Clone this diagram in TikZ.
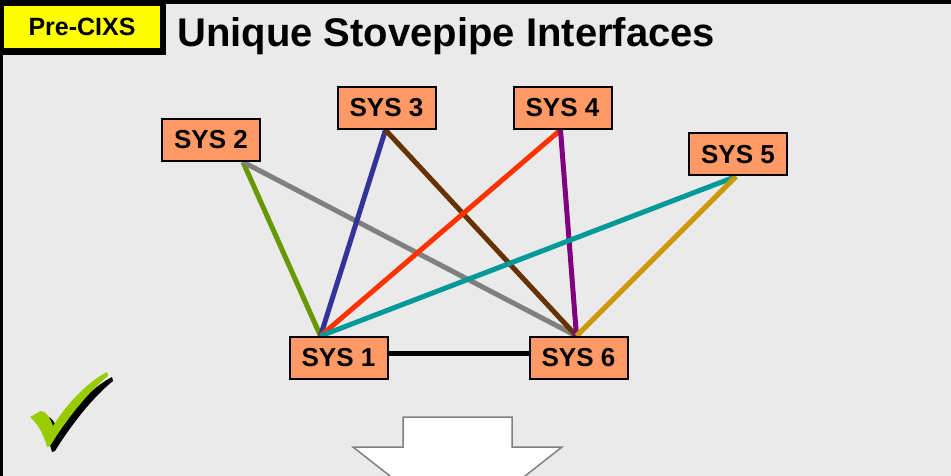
\documentclass[tikz,border=0pt]{standalone}
\usepackage{fontspec}
\setmainfont{Liberation Sans}
\usepackage{xcolor}
\usetikzlibrary{positioning,calc}

\definecolor{panelgray}{HTML}{EAEAEA}
\definecolor{sysorange}{HTML}{FF9966}
\definecolor{tagyellow}{HTML}{FFFF00}
\definecolor{checkgreen}{HTML}{99CC00}
\definecolor{lgreen}{HTML}{669900}
\definecolor{lgray}{HTML}{808080}
\definecolor{lblue}{HTML}{333399}
\definecolor{lbrown}{HTML}{663300}
\definecolor{lred}{HTML}{FF3300}
\definecolor{lpurple}{HTML}{800080}
\definecolor{lteal}{HTML}{009999}
\definecolor{lgold}{HTML}{CC9900}

\pgfdeclarelayer{bg}
\pgfsetlayers{bg,main}

\begin{document}
\begin{tikzpicture}[x=1pt, y=-1pt]
    % Styles
    \tikzstyle{sysbox} = [rectangle, draw, line width=2pt, fill=sysorange, minimum width=98pt, minimum height=42pt, inner sep=0pt, font=\fontsize{26}{30}\selectfont\bfseries]
    \tikzstyle{link} = [line width=5pt]

    \useasboundingbox (0,0) rectangle (951,476);

    % Systems
    \node[sysbox] (sys1) at (338.5,358) {SYS 1};
    \node[sysbox] (sys2) at (211,140) {SYS 2};
    \node[sysbox] (sys3) at (386.5,108) {SYS 3};
    \node[sysbox] (sys4) at (562.5,108) {SYS 4};
    \node[sysbox] (sys5) at (738,154.5) {SYS 5};
    \node[sysbox] (sys6) at (578.5,358) {SYS 6};

    % Attach points
    \coordinate (top1) at ([xshift=-18pt]sys1.north);
    \coordinate (top6) at ([xshift=-2pt]sys6.north);
    \coordinate (bot2) at ([xshift=32pt]sys2.south);
    \coordinate (bot3) at ([xshift=-1pt]sys3.south);
    \coordinate (bot4) at ([xshift=-2pt]sys4.south);
    \coordinate (bot5) at ([xshift=-2pt]sys5.south);

    \begin{pgfonlayer}{bg}
        % Panel
        \fill[panelgray] (0,0) rectangle (951,476);
        \fill[black] (0,0) rectangle (951,4);
        \fill[black] (0,0) rectangle (3,476);

        % Interfaces
        \draw[link, lgreen] (bot2) -- (top1);
        \draw[link, lgray] (bot2) -- (top6);
        \draw[link, lblue] (bot3) -- (top1);
        \draw[link, lbrown] (bot3) -- (top6);
        \draw[link, lred] (bot4) -- (top1);
        \draw[link, lpurple] (bot4) -- (top6);
        \draw[link, lteal] (bot5) -- (top1);
        \draw[link, lgold] (bot5) -- (top6);
        \draw[link, black] ([yshift=5pt]sys1.east) -- ([yshift=5pt]sys6.west);
    \end{pgfonlayer}

    % Header
    \fill[black] (0,0) rectangle (166,55);
    \node[fill=tagyellow, minimum width=156pt, minimum height=42pt, inner sep=0pt, font=\fontsize{25}{30}\selectfont\bfseries] (tag) at (82,27) {Pre-CIXS};
    \node[anchor=base west, inner sep=0pt, font=\fontsize{40}{48}\selectfont\bfseries] (title) at (177,47) {Unique Stovepipe Interfaces};

    % Check mark
    \fill[black, shift={(5,5)}] (30,417) -- (41,411) .. controls (47,412) and (50,418) .. (53,426) .. controls (68,402) and (88,382) .. (107,372) -- (108,376) .. controls (88,392) and (66,420) .. (50,446) -- (47,447) .. controls (43,432) and (37,423) .. (30,417) -- cycle;
    \fill[checkgreen] (30,417) -- (41,411) .. controls (47,412) and (50,418) .. (53,426) .. controls (68,402) and (88,382) .. (107,372) -- (108,376) .. controls (88,392) and (66,420) .. (50,446) -- (47,447) .. controls (43,432) and (37,423) .. (30,417) -- cycle;

    % Down arrow
    \filldraw[fill=white, draw=lgray, line width=1.5pt] (403,417) -- (512,417) -- (512,447) -- (562,447) -- (457.5,529) -- (353,447) -- (403,447) -- cycle;
\end{tikzpicture}
\end{document}
